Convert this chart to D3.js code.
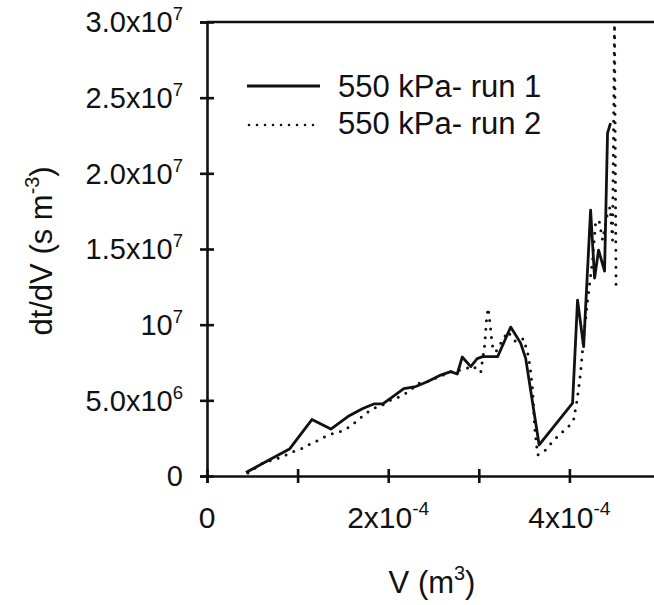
<!DOCTYPE html>
<html>
<head>
<meta charset="utf-8">
<script src="https://cdn.jsdelivr.net/npm/d3@7"></script>
<style>
  html, body { margin: 0; padding: 0; background: #fff; }
  svg { display: block; }
  text { font-family: "Liberation Sans", Arial, sans-serif; fill: #111; }
</style>
</head>
<body>
<svg id="chart" width="654" height="605"></svg>
<script>
// Filtration data: dt/dV against filtrate volume V, two runs at 550 kPa
const run1V = [0.430e-4, 0.910e-4, 1.158e-4, 1.367e-4, 1.555e-4, 1.720e-4, 1.841e-4, 1.940e-4,
  2.029e-4, 2.172e-4, 2.304e-4, 2.437e-4, 2.580e-4, 2.690e-4, 2.762e-4, 2.817e-4, 2.911e-4,
  2.982e-4, 3.043e-4, 3.208e-4, 3.352e-4, 3.462e-4, 3.517e-4, 3.666e-4, 4.035e-4, 4.090e-4,
  4.157e-4, 4.234e-4, 4.278e-4, 4.322e-4, 4.388e-4, 4.421e-4, 4.454e-4];
const run1Rate = [0.23e6, 1.78e6, 3.73e6, 3.10e6, 3.93e6, 4.46e6, 4.76e6, 4.76e6,
  5.15e6, 5.78e6, 5.91e6, 6.24e6, 6.67e6, 6.90e6, 6.74e6, 7.86e6, 7.23e6,
  7.76e6, 7.89e6, 7.89e6, 9.84e6, 8.78e6, 7.79e6, 2.05e6, 4.82e6, 11.62e6,
  8.55e6, 17.57e6, 13.08e6, 14.93e6, 13.54e6, 22.66e6, 23.32e6];

const run2V = [0.452e-4, 0.617e-4, 0.728e-4, 0.838e-4, 0.926e-4, 1.036e-4, 1.136e-4, 1.235e-4,
  1.334e-4, 1.433e-4, 1.522e-4, 1.632e-4, 1.731e-4, 1.830e-4, 1.918e-4, 2.029e-4, 2.128e-4,
  2.227e-4, 2.326e-4, 2.448e-4, 2.580e-4, 2.712e-4, 2.822e-4, 2.933e-4, 3.021e-4, 3.065e-4,
  3.087e-4, 3.104e-4, 3.126e-4, 3.148e-4, 3.186e-4, 3.319e-4, 3.407e-4, 3.495e-4, 3.539e-4,
  3.567e-4, 3.594e-4, 3.616e-4, 3.649e-4, 3.721e-4, 3.815e-4, 3.903e-4, 3.991e-4, 4.046e-4,
  4.085e-4, 4.123e-4, 4.162e-4, 4.201e-4, 4.256e-4, 4.289e-4, 4.327e-4, 4.366e-4, 4.421e-4,
  4.449e-4, 4.476e-4, 4.498e-4, 4.515e-4];
const run2Rate = [0.20e6, 0.86e6, 1.06e6, 1.29e6, 1.55e6, 1.78e6, 2.11e6, 2.38e6,
  2.71e6, 2.87e6, 3.04e6, 3.53e6, 4.03e6, 4.46e6, 4.62e6, 5.02e6, 5.25e6,
  5.58e6, 6.11e6, 6.27e6, 6.61e6, 6.94e6, 7.00e6, 7.27e6, 6.84e6, 8.65e6,
  10.50e6, 11.10e6, 9.97e6, 8.65e6, 8.19e6, 9.54e6, 8.88e6, 9.08e6, 8.12e6,
  7.20e6, 5.68e6, 3.24e6, 1.39e6, 1.62e6, 2.28e6, 2.81e6, 3.27e6, 3.70e6,
  5.02e6, 6.80e6, 9.45e6, 11.62e6, 14.27e6, 16.71e6, 16.91e6, 15.59e6, 17.37e6,
  17.77e6, 15.59e6, 29.85e6, 12.29e6];

const seriesNames = ["550 kPa- run 1", "550 kPa- run 2"];

// Tick labels: mantissa text plus superscript exponent
const yTickValues = [0, 5e6, 1e7, 1.5e7, 2e7, 2.5e7, 3e7];
const yTickBase = ["0", "5.0x10", "10", "1.5x10", "2.0x10", "2.5x10", "3.0x10"];
const yTickExp = ["", "6", "7", "7", "7", "7", "7"];

const xTickValues = [0, 1e-4, 2e-4, 3e-4, 4e-4, 5e-4];
const xTickBase = ["0", "", "2x10", "", "4x10", ""];
const xTickExp = ["", "", "-4", "", "-4", ""];

const svg = d3.select("#chart");
const plotLeft = 207, plotRight = 660, plotTop = 22, plotBottom = 476;
const fsY = 29, fsX = 30, fsTitle = 31, fsLegend = 31;

const x = d3.scaleLinear().domain([0, 5e-4]).range([plotLeft, plotRight]);
const y = d3.scaleLinear().domain([0, 3e7]).range([plotBottom, plotTop]);

// frame top edge
svg.append("line")
  .attr("x1", plotLeft).attr("x2", plotRight)
  .attr("y1", y(3e7)).attr("y2", y(3e7))
  .attr("stroke", "#111").attr("stroke-width", 2.6);

// axes with ticks crossing the axis line
const yAxis = svg.append("g").attr("transform", `translate(${plotLeft},0)`)
  .call(d3.axisLeft(y).tickValues(yTickValues).tickSize(7).tickFormat(""));
yAxis.selectAll(".tick line").attr("x1", -7).attr("x2", 7);

const xAxis = svg.append("g").attr("transform", `translate(0,${plotBottom})`)
  .call(d3.axisBottom(x).tickValues(xTickValues).tickSize(7).tickFormat(""));
xAxis.selectAll(".tick line").attr("y1", -7).attr("y2", 7);

[yAxis, xAxis].forEach(g => {
  g.select(".domain").attr("stroke", "#111").attr("stroke-width", 2.6);
  g.selectAll(".tick line").attr("stroke", "#111").attr("stroke-width", 2.6);
});

function supLabel(sel, base, exp, fs) {
  sel.append("tspan").text(base);
  if (exp) {
    sel.append("tspan").attr("dy", -fs * 0.42).attr("font-size", fs * 0.64).text(exp);
  }
}

yTickValues.forEach((v, i) => {
  const t = svg.append("text")
    .attr("x", 183).attr("y", y(v) + fsY * 0.36)
    .attr("text-anchor", "end").attr("font-size", fsY);
  supLabel(t, yTickBase[i], yTickExp[i], fsY);
});

xTickValues.forEach((v, i) => {
  if (!xTickBase[i]) return;
  const t = svg.append("text")
    .attr("x", x(v)).attr("y", 528)
    .attr("text-anchor", "middle").attr("font-size", fsX);
  supLabel(t, xTickBase[i], xTickExp[i], fsX);
});

// axis titles
const xt = svg.append("text").attr("x", 432).attr("y", 593)
  .attr("text-anchor", "middle").attr("font-size", fsTitle);
supLabel(xt, "V (m", "3", fsTitle);
xt.append("tspan").attr("dy", fsTitle * 0.42).text(")");

const yt = svg.append("text")
  .attr("transform", `translate(52,251) rotate(-90)`)
  .attr("text-anchor", "middle").attr("font-size", fsTitle);
supLabel(yt, "dt/dV (s m", "-3", fsTitle);
yt.append("tspan").attr("dy", fsTitle * 0.42).text(")");

// data lines
const line = d3.line().x(d => x(d[0])).y(d => y(d[1]));
const run1 = run1V.map((v, i) => [v, run1Rate[i]]);
const run2 = run2V.map((v, i) => [v, run2Rate[i]]);

svg.append("path").datum(run2).attr("d", line)
  .attr("fill", "none").attr("stroke", "#111").attr("stroke-width", 3)
  .attr("stroke-linecap", "round").attr("stroke-dasharray", "0 8.5");

svg.append("path").datum(run1).attr("d", line)
  .attr("fill", "none").attr("stroke", "#111").attr("stroke-width", 2.8)
  .attr("stroke-linejoin", "round");

// legend
const legend = svg.append("g");
legend.append("line").attr("x1", 247).attr("x2", 320).attr("y1", 86).attr("y2", 86)
  .attr("stroke", "#111").attr("stroke-width", 2.8);
legend.append("line").attr("x1", 249).attr("x2", 316).attr("y1", 125).attr("y2", 125)
  .attr("stroke", "#111").attr("stroke-width", 2.6)
  .attr("stroke-linecap", "round").attr("stroke-dasharray", "0 8");
legend.selectAll("text.lg").data(seriesNames).join("text")
  .attr("class", "lg")
  .attr("x", 338).attr("y", (d, i) => 97 + i * 37)
  .attr("font-size", fsLegend).text(d => d);
</script>
</body>
</html>
